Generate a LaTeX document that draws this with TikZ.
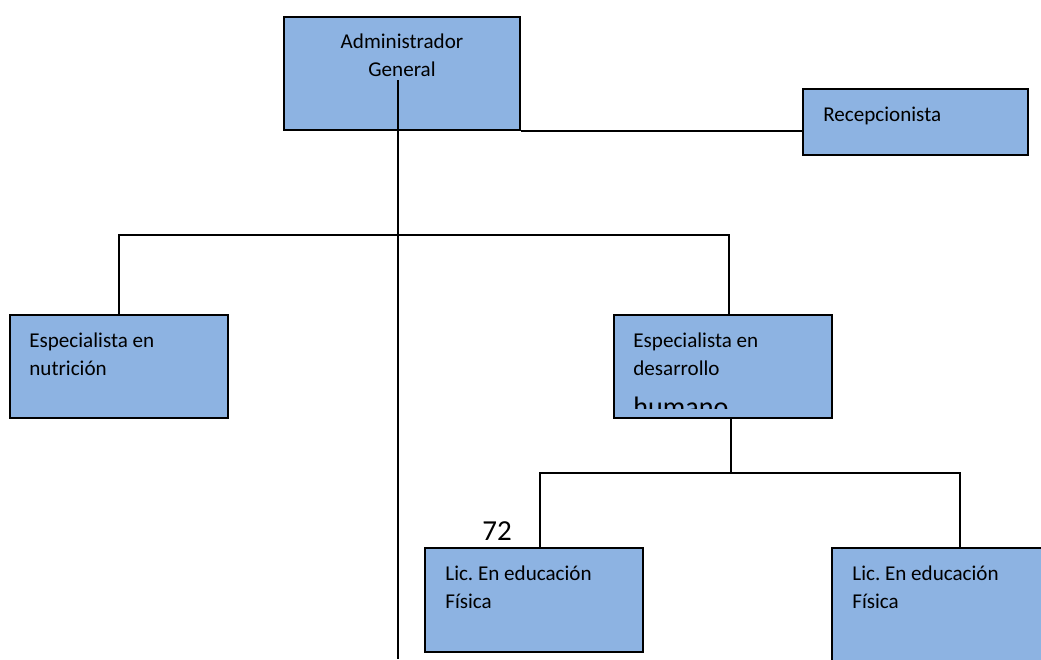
\documentclass[tikz,border=0pt]{standalone}
\usepackage{fontspec}
\setmainfont{Carlito}
\usetikzlibrary{positioning}
\definecolor{orgBlue}{HTML}{8DB3E2}
\frenchspacing

\begin{document}
\begin{tikzpicture}[
  box/.style={draw, line width=1.1pt, fill=orgBlue, inner sep=0pt,
    minimum width=4.36cm, minimum height=2.06cm},
  txt/.style={inner sep=0pt, align=left, font=\fontsize{12}{16.4}\selectfont},
  link/.style={line width=1.1pt}]
\useasboundingbox (0,0) rectangle (20.82,-13.18);
% boxes
\node[box, minimum width=4.72cm, minimum height=2.26cm] (admin) at (8.04,-1.47) {};
\node[box, minimum width=4.50cm, minimum height=1.32cm] (recep) at (18.31,-2.44) {};
\node[box] (nutri) at (2.38,-7.33) {};
\node[box] (desa) at (14.46,-7.33) {};
\node[box, minimum height=2.08cm] (lic1) at (10.68,-12.00) {};
\node[box, minimum height=2.30cm] (lic2) at (18.82,-12.11) {};
% texts
\node[txt, align=center, below=0.34cm of admin.north] (adminT) {Administrador\\General};
\node[txt, below right=0.38cm and 0.42cm of recep.north west] (recepT) {Recepcionista};
\node[txt, below right=0.36cm and 0.40cm of nutri.north west] (nutriT) {Especialista en\\nutrición};
\begin{scope}
\clip (desa.north west) rectangle ([yshift=0.2cm]desa.south east);
\node[txt, below right=0.36cm and 0.40cm of desa.north west] (desaT)
  {Especialista en\\desarrollo\\[6.8pt]\fontsize{16}{22}\selectfont humano};
\end{scope}
\node[txt, below right=0.36cm and 0.42cm of lic1.north west] (lic1T) {Lic. En educación\\Física};
\node[txt, below right=0.36cm and 0.42cm of lic2.north west] (lic2T) {Lic. En educación\\Física};
\node[inner sep=0pt, font=\fontsize{16.5}{19}\selectfont] (page) at (9.94,-10.62) {72};
% connectors
\coordinate (trunk) at (7.96,-1.60);
\coordinate (trunkEnd) at (7.96,-13.18);
\coordinate (barL) at (2.38,-4.70);
\coordinate (barR) at (14.58,-4.70);
\coordinate (desaOut) at ([xshift=0.16cm]desa.south);
\coordinate (subL) at (10.80,-9.46);
\coordinate (subR) at (19.20,-9.46);
\draw[link] (trunk) -- (trunkEnd);
\draw[link] (admin.south east) -- (admin.south east -| recep.west);
\draw[link] (nutri.north) -- (barL) -- (barR) -- (barR |- desa.north);
\draw[link] (desaOut) -- (desaOut |- subL);
\draw[link] (lic1.north -| subL) -- (subL) -- (subR) -- (subR |- lic2.north);
\end{tikzpicture}
\end{document}
